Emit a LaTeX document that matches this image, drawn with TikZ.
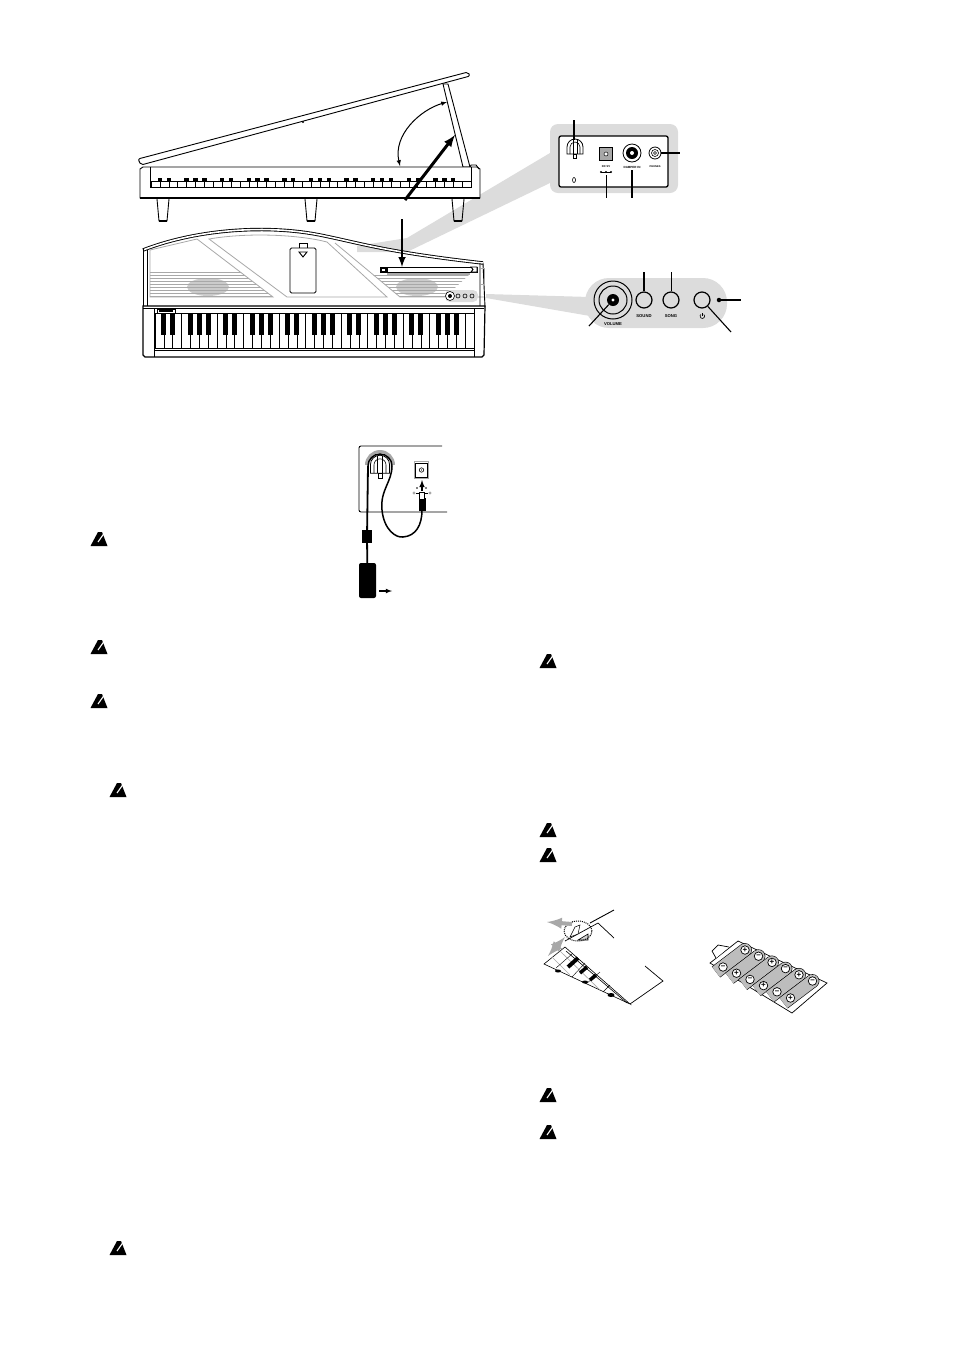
\documentclass[tikz,border=0pt]{standalone}
\usepackage{fontspec}
\setmainfont{Liberation Sans}
\definecolor{calloutgray}{HTML}{DCDCDC}
\definecolor{panelgray}{HTML}{A8A8A8}
\definecolor{batterygray}{HTML}{BDBDBD}
\tikzset{
    outline/.style={draw=black, line width=0.9pt},
    panelline/.style={draw=panelgray, line width=0.8pt},
    leader/.style={draw=black, line width=1.1pt},
    tinylabel/.style={font=\bfseries\fontsize{#1}{#1}\selectfont, inner sep=0pt},
    button/.style={circle, draw=black, line width=1.2pt, fill=calloutgray, inner sep=0pt, minimum size=#1},
    batsign/.style={circle, draw=black, line width=0.7pt, fill=white, inner sep=0pt, minimum size=8.5pt, font=\bfseries\fontsize{8}{8}\selectfont},
    warnicon/.pic={
        \fill[black] (-8.5,7) -- (-1,-7) -- (3,-7) -- (8.5,7) -- cycle;
        \draw[white, line width=1.1pt] (-1,3) -- (6,-7);
    },
    cordhook/.pic={
        \draw[black, line width=0.8pt, fill=white] (-8,6) -- (-8,-1) arc (180:0:8pt) -- (8,6) -- cycle;
        \draw[black, line width=0.6pt] (-5,6) -- (-5,-1) arc (180:0:5pt) -- (5,6);
        \draw[black, line width=0.6pt] (-2,6) -- (-2,-8) (2,6) -- (2,-8);
        \draw[black, line width=0.5pt, fill=white] (-1.5,6) rectangle (1.5,10);
    }
}
\begin{document}
\begin{tikzpicture}[x=1pt, y=-1pt]
    \useasboundingbox (0,0) rectangle (954,1350);

    % Callout beams
    \fill[calloutgray] (550,153) -- (407,238) -- (357,246) -- (357,252) -- (407,252) -- (550,183) -- cycle;
    \fill[calloutgray] (486,294) -- (590,297) -- (590,316) -- (486,298) -- cycle;

    % Grand piano seen from the side
    \draw[outline, fill=white, rounded corners=2pt] (138,159) -- (468,72) -- (470,76) -- (141,165) -- cycle;
    \fill[black] (303,122) circle (1.2pt);
    \draw[outline, fill=white] (443,84) -- (448,84) -- (470,167) -- (463,167) -- cycle;
    \draw[outline, fill=white] (140,169) -- (143,167) -- (477,167) -- (480,169) -- (480,198) -- (140,198) -- cycle;
    \draw[black, line width=1.6pt] (140,198) -- (480,198);
    \draw[outline] (150,167) -- (150,187) -- (471,187) -- (471,167);
    \draw[outline] (470,167) -- (471,165) -- (476,165) -- (479,169);
    \foreach \k in {0,...,36}
        \draw[black, line width=0.5pt] ({151+\k*8.89},181) -- ({151+\k*8.89},187);
    \draw[outline] (151,181) -- (471,181);
    \foreach \o in {0,...,4}
        \foreach \k in {1,2,4,5,6}
            \fill[black] ({151+(7*\o+\k)*8.89-2.2},178) rectangle ({151+(7*\o+\k)*8.89+2.2},182);
    \foreach \x in {157,305,452} {
        \draw[outline] (\x,199) -- (\x+2,221) -- (\x+10,221) -- (\x+12,199);
        \draw[black, line width=1.2pt] (\x+2,221) -- (\x+10,221);
    }
    \draw[black, line width=1pt, latex-latex] (400,166) .. controls (393,135) and (420,110) .. (447,102);

    % Grand piano seen from above
    \fill[white] (143,250) -- (143,306) -- (485,306) -- (483,263) -- cycle;
    \draw[panelline] (150,250) -- (197,239) -- (273,297) -- (150,297) -- cycle;
    \draw[panelline] (209,239) .. controls (250,232) and (300,235) .. (327,242) -- (387,297) -- (287,297) -- cycle;
    \draw[panelline] (335,243) -- (400,297) -- (484,297);
    \begin{scope}
        \clip (150,271) -- (239,271) -- (273,297) -- (150,297) -- cycle;
        \fill[panelgray!60] (208,287) ellipse (21pt and 9pt);
        \foreach \y in {272,275,...,297}
            \draw[panelgray, line width=0.8pt] (150,\y) -- (273,\y);
    \end{scope}
    \begin{scope}
        \clip (372,274) -- (470,274) -- (445,297) -- (400,297) -- cycle;
        \fill[panelgray!60] (417,287) ellipse (21pt and 9pt);
        \foreach \y in {275,278,...,297}
            \draw[panelgray, line width=0.8pt] (372,\y) -- (470,\y);
    \end{scope}
    \fill[panelgray] (387,272) rectangle (470,275);
    \draw[black, line width=0.9pt, double, double distance=1.6pt] (143,250) .. controls (200,228) and (270,225) .. (320,235) .. controls (360,243) and (385,252) .. (483,263);
    \draw[outline] (143,248) -- (143,306) (147,250) -- (147,306);
    \draw[outline] (483,263) -- (485,307) (480,263) -- (480,306);
    \draw[panelgray, line width=0.7pt] (480,268) rectangle (484,284);
    % Battery cover
    \draw[outline, fill=white, rounded corners=1.5pt] (290,248) rectangle (316,293);
    \draw[outline] (299,248) -- (299,243) -- (307,243) -- (307,248);
    \draw[outline] (299,252) -- (307,252) -- (303,257) -- cycle;
    % Rear edge strip
    \draw[outline, fill=white] (380,267) rectangle (477,272);
    \fill[black] (380,267) rectangle (388,272);
    \fill[white] (382,268.5) rectangle (385,270.5);
    \draw[outline, fill=white] (471,267) -- (477,267) -- (477,272) -- (471,272) -- (473,269.5) -- cycle;
    % Small panel on the top
    \fill[calloutgray, rounded corners=5pt] (445,290) rectangle (478,302);
    \draw[black, line width=0.6pt, fill=white] (450,296) circle (4.5pt);
    \fill[black] (450,296) circle (2pt);
    \foreach \x in {458,465,472}
        \draw[black, line width=0.6pt] (\x,296) circle (2pt);
    % Keyboard
    \draw[black, line width=1.2pt, fill=white] (143,306) -- (485,306) -- (484,355) -- (482,357) -- (145,357) -- (143,355) -- cycle;
    \draw[outline] (143,308.5) -- (484,308.5);
    \draw[outline] (154,308.5) -- (154,357) (474,308.5) -- (474,357) (154,350) -- (474,350);
    \draw[outline, fill=white] (157,309) rectangle (175,313);
    \fill[black] (159,310) rectangle (173,312);
    \draw[outline] (155,313) -- (474,313) (155,348) -- (474,348);
    \foreach \k in {0,...,36}
        \draw[black, line width=0.5pt] ({155+\k*8.86},313) -- ({155+\k*8.86},348);
    \foreach \o in {0,...,4}
        \foreach \k in {1,2,4,5,6}
            \fill[black] ({155+(7*\o+\k)*8.86-2.5},313) rectangle ({155+(7*\o+\k)*8.86+2.5},335);

    % Heavy arrows
    \draw[-latex, black, line width=3pt] (405,200) -- (455,135);
    \draw[-latex, black, line width=2.4pt] (402,219) -- (402,267);

    % Rear panel callout
    \fill[calloutgray, rounded corners=8pt] (550,124) rectangle (678,193);
    \draw[black, line width=1.3pt, fill=white, rounded corners=2pt] (559,136) rectangle (668,187);
    \pic at (575,148) {cordhook};
    \draw[black, line width=0.6pt] (574,180) ellipse (1.5pt and 2.5pt);
    \node[draw=black, fill=panelgray, line width=0.8pt, minimum size=12.5pt, inner sep=0pt] (dcjack) at (606,154) {};
    \draw[black, line width=0.5pt, fill=white] (606,154) circle (2pt);
    \node[circle, draw=black, line width=0.8pt, fill=white, minimum size=18pt, inner sep=0pt] (damper) at (632,153) {};
    \fill[black] (632,153) circle (6pt);
    \fill[white] (632,153) circle (2pt);
    \node[circle, draw=black, line width=0.8pt, fill=white, minimum size=12pt, inner sep=0pt] (phones) at (655,153) {};
    \draw[black, line width=0.6pt] (655,153) circle (3.5pt) (655,153) circle (1.5pt);
    \node[tinylabel=2.8] (dclabel) at (606,167) {DC 9V};
    \node[tinylabel=3] (damperlabel) at (632,167) {DAMPER IN};
    \node[tinylabel=2.6] (phoneslabel) at (655,167) {PHONES};
    \draw[black, line width=0.4pt] (601,172) -- (611,172);
    \foreach \x in {601,606,611}
        \fill[black] (\x,172) circle (1.1pt);
    \coordinate (hookend) at (574,120);
    \coordinate (hooktip) at (574,140);
    \coordinate (dcend) at (606,198);
    \coordinate (dctop) at (606,175);
    \coordinate (damperend) at (632,198);
    \coordinate (dampertop) at (632,170);
    \coordinate (phonesend) at (680,153);
    \draw[leader] (hookend) -- (hooktip);
    \draw[leader, line width=0.8pt] (dctop) -- (dcend);
    \draw[leader, line width=1.3pt] (dampertop) -- (damperend);
    \draw[leader, line width=1.3pt] (phones) -- (phonesend);

    % Front controls callout
    \fill[calloutgray, rounded corners=24pt] (585,278) rectangle (727,328);
    \node[circle, draw=black, line width=1pt, minimum size=38pt, inner sep=0pt] (knobring) at (613,300) {};
    \node[circle, draw=black, line width=1pt, minimum size=28pt, inner sep=0pt] (knob) at (613,300) {};
    \node[circle, fill=black, minimum size=12pt, inner sep=0pt] (knobcore) at (613,300) {};
    \fill[white] (613,300) circle (1.7pt);
    \node[button=16pt] (sound) at (644,300) {};
    \node[button=16pt] (song) at (671,300) {};
    \node[button=16pt] (power) at (702,300) {};
    \node[circle, fill=black, minimum size=4.5pt, inner sep=0pt] (powerled) at (719,300) {};
    \node[tinylabel=4.2] (volumelabel) at (613,324) {VOLUME};
    \node[tinylabel=4.2] (soundlabel) at (644,316) {SOUND};
    \node[tinylabel=4.2] (songlabel) at (671,316) {SONG};
    % Standby symbol
    \draw[black, line width=0.6pt] (703.8,314.4) arc (50:-230:2.3pt);
    \draw[black, line width=0.6pt] (702.3,313) -- (702.3,316);
    \coordinate (volumeend) at (589,326);
    \coordinate (soundend) at (644,272);
    \coordinate (songend) at (671,272);
    \coordinate (ledend) at (741,300);
    \coordinate (powerend) at (731,332);
    \draw[leader] (knobcore) -- (volumeend);
    \draw[leader, line width=1.3pt] (sound) -- (soundend);
    \draw[leader, line width=0.8pt] (song) -- (songend);
    \draw[leader] (powerled) -- (ledend);
    \draw[leader] (power) -- (powerend);

    % AC adapter connection
    \draw[black, line width=0.9pt, rounded corners=2pt] (442,446) -- (359,446) -- (359,512) -- (447,512);
    \draw[panelgray, line width=3pt] (366.5,465) arc (180:0:13.5pt);
    \pic[scale=1.2] at (380,466) {cordhook};
    \node[draw=panelgray, line width=1.2pt, fill=white, minimum width=14pt, minimum height=17pt, inner sep=0pt] (acjack) at (421.5,470) {};
    \draw[black, line width=0.6pt] (415.5,463) rectangle (427.5,477);
    \draw[black, line width=0.6pt] (421.5,470) circle (2.2pt);
    \fill[black] (421.5,470) circle (0.7pt);
    \draw[black, line width=1.5pt] (368,466) arc (180:0:12pt);
    \node[fill=black, minimum width=10pt, minimum height=13pt, inner sep=0pt] (cordblock) at (367,536.5) {};
    \node[fill=black, rounded corners=2pt, minimum width=17pt, minimum height=35pt, inner sep=0pt] (adapter) at (367.5,580.5) {};
    \coordinate (cordtop) at (368,466);
    \draw[black, line width=1.8pt] (cordtop) -- (cordblock) -- (adapter);
    \draw[black, line width=1.5pt] (392,466) .. controls (392,482) and (380,490) .. (382,510) .. controls (384,530) and (396,538) .. (403,537) .. controls (416,536) and (422,525) .. (422,510);
    \fill[black] (418.5,498) rectangle (425.5,511);
    \draw[black, line width=0.8pt, fill=white] (419,492) rectangle (424.5,499);
    \draw[-latex, black, line width=1.4pt] (422,491) -- (422,480);
    \foreach \x in {414,430}
        \fill[panelgray] (\x,493) circle (1.7pt);
    \draw[black, line width=0.4pt] (416,493) -- (419,493) (425,493) -- (428,493);
    \fill[black] (417,488) circle (0.8pt) (426,488) circle (0.8pt);
    \coordinate (adapterarrow) at (392,591);
    \draw[-latex, black, line width=1.1pt] (379,591) -- (adapterarrow);

    % Warning marks beside the text
    \foreach \x/\y in {99/539,99/647,99/701,118/790,118/1248,548/661,548/830,548/855,548/1095,548/1132}
        \pic at (\x,\y) {warnicon};

    % Opening the battery cover
    \draw[black, line width=0.6pt, fill=white] (544,964) -- (565,947) -- (630,1004) -- cycle;
    \draw[black, line width=0.6pt] (566,951) -- (627,1003);
    \draw[panelgray, line width=0.6pt] (552,957) -- (570,975) (560,951) -- (600,990);
    \draw[black, line width=0.4pt] (556,968) -- (572,954) (572,977) -- (585,963) (586,984) -- (600,972) (603,992) -- (610,985);
    \draw[black, line width=4pt] (568,967) -- (578,958);
    \draw[black, line width=3.5pt] (580,973) -- (587,967);
    \draw[black, line width=3.5pt] (590,980) -- (596,975);
    \fill[black] (558,971) ellipse (3pt and 1.5pt) (585,982) ellipse (3pt and 1.5pt) (611,995) ellipse (3.5pt and 2pt);
    \draw[black, line width=0.7pt] (630,1004) -- (663,981) -- (645,966);
    \draw[black, line width=0.7pt] (565,941) -- (598,923) -- (614,938);
    \draw[black, line width=0.5pt, fill=white] (570,937) -- (575,927) -- (580,925) -- (578,934) -- cycle;
    \draw[black, line width=0.6pt, fill=panelgray!50] (578,940) -- (588,934) -- (588,940) -- cycle;
    \draw[black, line width=0.9pt] (590,923) -- (614,910);
    \draw[black, line width=1pt, densely dotted] (578,931) ellipse (14pt and 10pt);
    \draw[-latex, panelgray, line width=4pt] (572,924) -- (547,922);
    \draw[latex-latex, panelgray, line width=4pt] (548,956) -- (565,937);

    % Battery tray
    \draw[black, line width=0.7pt, fill=white] (710,963) -- (738,941) -- (827,983) -- (792,1013) -- cycle;
    \draw[black, line width=0.7pt, fill=white] (716,958) -- (712,951) -- (718,945) -- (729,947);
    \foreach \i in {0,...,5} {
        \draw[black, line width=13.7pt] ({716+\i*13.5},{972+\i*6.2}) -- ({745+\i*13.5},{950+\i*6.2});
        \fill[black] ({745+\i*13.5},{950+\i*6.2}) circle (6.85pt);
        \draw[batterygray, line width=12.5pt] ({716+\i*13.5},{972+\i*6.2}) -- ({745+\i*13.5},{950+\i*6.2});
        \fill[batterygray] ({745+\i*13.5},{950+\i*6.2}) circle (6.25pt);
    }
    \foreach \i in {0,2,4} {
        \node[batsign] (minus\i) at ({723+\i*13.5},{967+\i*6.2}) {–};
        \node[batsign] (plus\i) at ({745+\i*13.5},{950+\i*6.2}) {+};
    }
    \foreach \i in {1,3,5} {
        \node[batsign] (plus\i) at ({723+\i*13.5},{967+\i*6.2}) {+};
        \node[batsign] (minus\i) at ({745+\i*13.5},{950+\i*6.2}) {–};
    }
\end{tikzpicture}
\end{document}
